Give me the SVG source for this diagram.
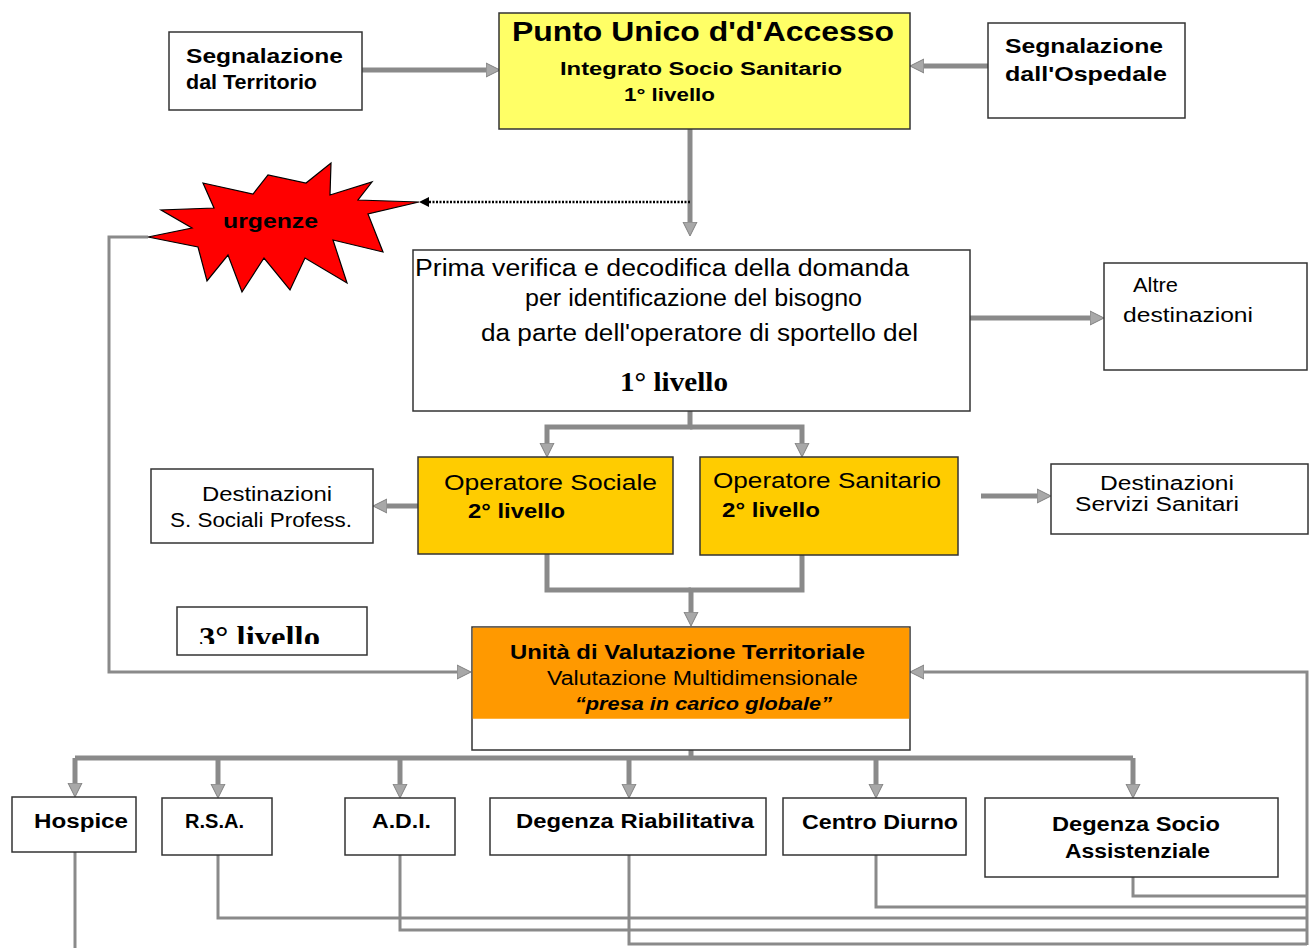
<svg xmlns="http://www.w3.org/2000/svg" width="1309" height="948" viewBox="0 0 1309 948">
<style>
.box{fill:#fff;stroke:#333;stroke-width:1.5}
.t{font-family:"Liberation Sans",Arial,sans-serif;fill:#000}
.b{font-weight:bold}
.sr{font-family:"Liberation Serif","Times New Roman",serif;font-weight:bold;fill:#000}
.c{fill:none;stroke:#8a8a8a;stroke-width:5}
.c3{fill:none;stroke:#8a8a8a;stroke-width:3}
</style>
<defs>
<marker id="ah" markerUnits="userSpaceOnUse" markerWidth="16" markerHeight="16" refX="6" refY="8" orient="auto">
<path d="M0,1 L14,8 L0,15 Z" fill="#a8a8a8" stroke="#808080" stroke-width="1"/>
</marker>
<marker id="ahb" markerUnits="userSpaceOnUse" markerWidth="12" markerHeight="12" refX="4" refY="6" orient="auto">
<path d="M0,1 L10,6 L0,11 Z" fill="#000"/>
</marker>
<clipPath id="clip3"><rect x="177" y="607" width="190" height="37"/></clipPath>
</defs>
<rect width="1309" height="948" fill="#fff"/>

<g id="connectors">
<path class="c" d="M362,70 H492" marker-end="url(#ah)"/>
<path class="c" d="M988,66 H918" marker-end="url(#ah)"/>
<path class="c" d="M690,129 V228" marker-end="url(#ah)"/>
<path d="M690,202 H425" fill="none" stroke="#000" stroke-width="2.5" stroke-dasharray="2,1.5" marker-end="url(#ahb)"/>
<path class="c" d="M970,318 H1096" marker-end="url(#ah)"/>
<path class="c" d="M690,411 V427 H547 V449" marker-end="url(#ah)"/>
<path class="c" d="M690,427 H802 V449" marker-end="url(#ah)"/>
<path class="c" d="M418,506 H381" marker-end="url(#ah)"/>
<path class="c" d="M981,496 H1043" marker-end="url(#ah)"/>
<path class="c" d="M547,554 V590 H691"/>
<path class="c" d="M802,554 V590 H691 V618" marker-end="url(#ah)"/>
<path class="c3" d="M148,237 H109 V672 H463" marker-end="url(#ah)"/>
<path class="c3" d="M1307,945 V672 H918" marker-end="url(#ah)"/>
<path class="c" d="M691,750 V758"/>
<path class="c" d="M75,758 H1133"/>
<path class="c" d="M75,758 V789" marker-end="url(#ah)"/>
<path class="c" d="M218,758 V790" marker-end="url(#ah)"/>
<path class="c" d="M400,758 V790" marker-end="url(#ah)"/>
<path class="c" d="M629,758 V790" marker-end="url(#ah)"/>
<path class="c" d="M876,758 V790" marker-end="url(#ah)"/>
<path class="c" d="M1133,758 V790" marker-end="url(#ah)"/>
<path class="c3" d="M75,852 V948"/>
<path class="c3" d="M218,855 V918 H1307"/>
<path class="c3" d="M400,855 V930 H1307"/>
<path class="c3" d="M629,855 V944 H1307"/>
<path class="c3" d="M876,855 V907 H1307"/>
<path class="c3" d="M1133,877 V896 H1307"/>
</g>

<g id="seg_territorio">
<rect class="box" x="169" y="32" width="193" height="78"/>
<text class="t b" x="186" y="63" font-size="21" textLength="157" lengthAdjust="spacingAndGlyphs">Segnalazione</text>
<text class="t b" x="186" y="89" font-size="21" textLength="131" lengthAdjust="spacingAndGlyphs">dal Territorio</text>
</g>

<g id="punto_unico">
<rect x="499" y="13" width="411" height="116" fill="#FFFF66" stroke="#333" stroke-width="1.5"/>
<text class="t b" x="512" y="41" font-size="27" textLength="382" lengthAdjust="spacingAndGlyphs">Punto Unico d'd'Accesso</text>
<text class="t b" x="560" y="75" font-size="18" textLength="282" lengthAdjust="spacingAndGlyphs">Integrato Socio Sanitario</text>
<text class="t b" x="624" y="101" font-size="18" textLength="91" lengthAdjust="spacingAndGlyphs">1° livello</text>
</g>

<g id="seg_ospedale">
<rect class="box" x="988" y="23" width="197" height="95"/>
<text class="t b" x="1005" y="53" font-size="21" textLength="158" lengthAdjust="spacingAndGlyphs">Segnalazione</text>
<text class="t b" x="1005" y="81" font-size="21" textLength="162" lengthAdjust="spacingAndGlyphs">dall'Ospedale</text>
</g>

<g id="urgenze">
<polygon points="419,202 368,214 383,252 333,240 347,283 305,258 290,290 264,258 242,292 228,255 207,281 198,247 148,237 192,228 161,210 214,208 203,183 253,194 268,175 306,183 331,163 330,195 372,182 358,200" fill="#FF0000" stroke="#000" stroke-width="1.2"/>
<text class="t b" x="223" y="228" font-size="21" textLength="95" lengthAdjust="spacingAndGlyphs">urgenze</text>
</g>

<g id="prima_verifica">
<rect class="box" x="413" y="250" width="557" height="161"/>
<text class="t" x="415" y="276" font-size="23" textLength="494" lengthAdjust="spacingAndGlyphs">Prima verifica e decodifica della domanda</text>
<text class="t" x="525" y="306" font-size="23" textLength="337" lengthAdjust="spacingAndGlyphs">per identificazione del bisogno</text>
<text class="t" x="481" y="341" font-size="23" textLength="437" lengthAdjust="spacingAndGlyphs">da parte dell'operatore di sportello del</text>
<text class="sr" x="620" y="391" font-size="28" textLength="108" lengthAdjust="spacingAndGlyphs">1° livello</text>
</g>

<g id="altre_destinazioni">
<rect class="box" x="1104" y="263" width="203" height="107"/>
<text class="t" x="1133" y="292" font-size="20" textLength="45" lengthAdjust="spacingAndGlyphs">Altre</text>
<text class="t" x="1123" y="322" font-size="20" textLength="130" lengthAdjust="spacingAndGlyphs">destinazioni</text>
</g>

<g id="dest_sociali">
<rect class="box" x="151" y="469" width="222" height="74"/>
<text class="t" x="202" y="501" font-size="20" textLength="130" lengthAdjust="spacingAndGlyphs">Destinazioni</text>
<text class="t" x="170" y="527" font-size="20" textLength="182" lengthAdjust="spacingAndGlyphs">S. Sociali Profess.</text>
</g>

<g id="op_sociale">
<rect x="418" y="457" width="255" height="97" fill="#FFCC00" stroke="#333" stroke-width="1.5"/>
<text class="t" x="444" y="490" font-size="22" textLength="213" lengthAdjust="spacingAndGlyphs">Operatore Sociale</text>
<text class="t b" x="468" y="518" font-size="20" textLength="97" lengthAdjust="spacingAndGlyphs">2° livello</text>
</g>

<g id="op_sanitario">
<rect x="700" y="457" width="258" height="98" fill="#FFCC00" stroke="#333" stroke-width="1.5"/>
<text class="t" x="713" y="488" font-size="22" textLength="228" lengthAdjust="spacingAndGlyphs">Operatore Sanitario</text>
<text class="t b" x="722" y="517" font-size="20" textLength="98" lengthAdjust="spacingAndGlyphs">2° livello</text>
</g>

<g id="dest_sanitari">
<rect class="box" x="1051" y="464" width="257" height="70"/>
<text class="t" x="1100" y="490" font-size="20" textLength="134" lengthAdjust="spacingAndGlyphs">Destinazioni</text>
<text class="t" x="1075" y="511" font-size="20" textLength="164" lengthAdjust="spacingAndGlyphs">Servizi Sanitari</text>
</g>

<g id="terzo_livello">
<rect class="box" x="177" y="607" width="190" height="48"/>
<text class="sr" x="199" y="647" font-size="30" textLength="121" lengthAdjust="spacingAndGlyphs" clip-path="url(#clip3)">3° livello</text>
</g>

<g id="uvt">
<rect class="box" x="472" y="627" width="438" height="123"/>
<rect x="472.75" y="627.75" width="436.5" height="91" fill="#FF9900"/>
<text class="t b" x="510" y="659" font-size="20" textLength="355" lengthAdjust="spacingAndGlyphs">Unità di Valutazione Territoriale</text>
<text class="t" x="547" y="685" font-size="20" textLength="311" lengthAdjust="spacingAndGlyphs">Valutazione Multidimensionale</text>
<text class="t b" x="575" y="710" font-size="19" font-style="italic" textLength="257" lengthAdjust="spacingAndGlyphs">“presa in carico globale”</text>
</g>

<g id="hospice">
<rect class="box" x="12" y="797" width="124" height="55"/>
<text class="t b" x="34" y="828" font-size="20" textLength="94" lengthAdjust="spacingAndGlyphs">Hospice</text>
</g>
<g id="rsa">
<rect class="box" x="162" y="798" width="110" height="57"/>
<text class="t b" x="185" y="828" font-size="20" textLength="59" lengthAdjust="spacingAndGlyphs">R.S.A.</text>
</g>
<g id="adi">
<rect class="box" x="345" y="798" width="110" height="57"/>
<text class="t b" x="372" y="828" font-size="20" textLength="59" lengthAdjust="spacingAndGlyphs">A.D.I.</text>
</g>
<g id="degenza_riab">
<rect class="box" x="490" y="798" width="276" height="57"/>
<text class="t b" x="516" y="828" font-size="20" textLength="238" lengthAdjust="spacingAndGlyphs">Degenza Riabilitativa</text>
</g>
<g id="centro_diurno">
<rect class="box" x="783" y="798" width="183" height="57"/>
<text class="t b" x="802" y="829" font-size="20" textLength="156" lengthAdjust="spacingAndGlyphs">Centro Diurno</text>
</g>
<g id="degenza_socio">
<rect class="box" x="985" y="798" width="293" height="79"/>
<text class="t b" x="1052" y="831" font-size="20" textLength="168" lengthAdjust="spacingAndGlyphs">Degenza Socio</text>
<text class="t b" x="1065" y="858" font-size="20" textLength="145" lengthAdjust="spacingAndGlyphs">Assistenziale</text>
</g>
</svg>
